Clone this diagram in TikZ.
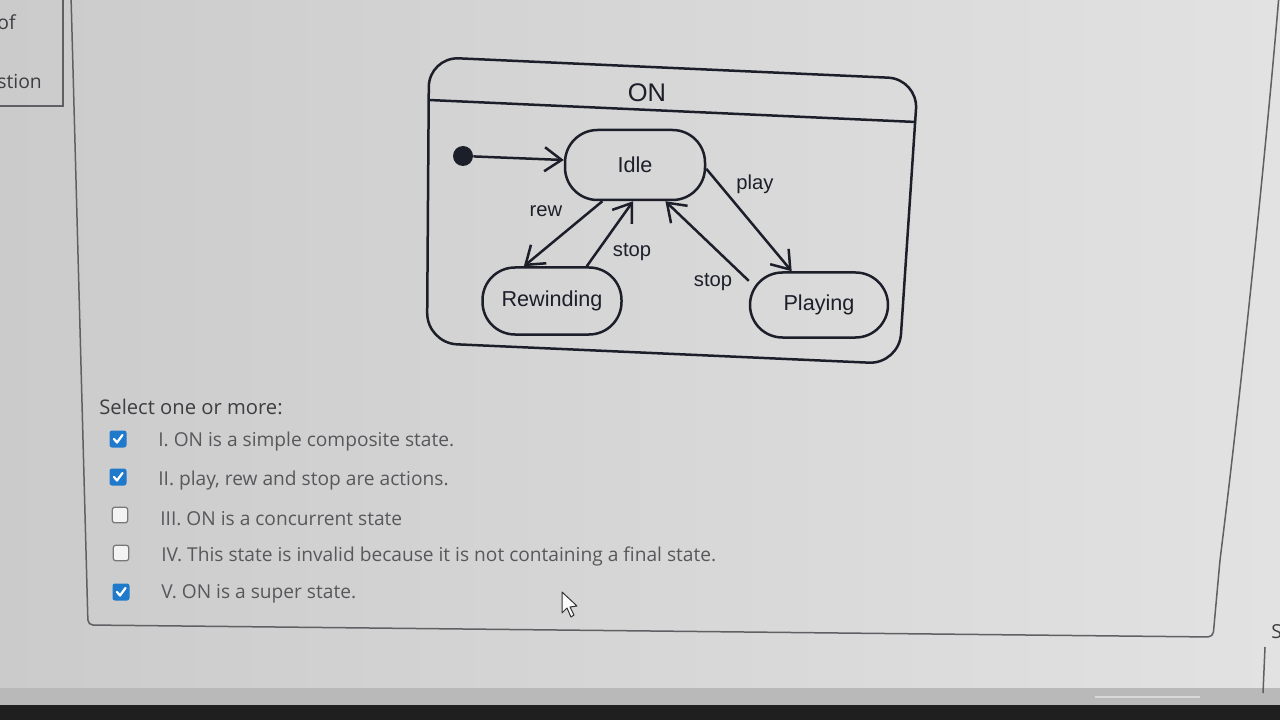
\documentclass[tikz,border=0pt]{standalone}
\usepackage{fontspec}
\setmainfont{Open Sans}
\newfontfamily\umlfont{Liberation Sans}
\usetikzlibrary{arrows.meta}

\definecolor{umlink}{RGB}{28,30,42}
\definecolor{screenleft}{RGB}{203,203,203}
\definecolor{screenright}{RGB}{226,226,226}
\definecolor{panelgray}{RGB}{95,95,100}
\definecolor{quizgray}{RGB}{88,88,92}
\definecolor{titlegray}{RGB}{62,62,66}
\definecolor{tickblue}{RGB}{32,122,204}
\definecolor{boxgray}{RGB}{120,120,120}

\newcommand\tickmark[1]{\draw[white, line width=0.45mm, line cap=round, line join=round]
  ([shift={(-4,0)}]#1.center) -- ([shift={(-1,3.5)}]#1.center) -- ([shift={(4.5,-4)}]#1.center);}

\begin{document}
\begin{tikzpicture}[x=0.2mm, y=-0.2mm]
\tikzstyle{stateStyle} = [draw=umlink, line width=0.5mm, rectangle, rounded corners=6.5mm, text=umlink, font=\umlfont\fontsize{12.3}{14}\selectfont]
\tikzstyle{edgeStyle} = [draw=umlink, line width=0.5mm, -{Straight Barb[length=3.4mm, width=4.8mm]}]
\tikzstyle{labelStyle} = [inner sep=0pt, text=umlink, font=\umlfont\fontsize{11.5}{13}\selectfont]
\tikzstyle{optionStyle} = [anchor=west, inner sep=0pt, text=quizgray, font=\fontsize{10.9}{13}\selectfont]
\tikzstyle{tickedStyle} = [rectangle, minimum size=3.4mm, inner sep=0pt, fill=tickblue, rounded corners=0.5mm]
\tikzstyle{emptyStyle} = [rectangle, minimum size=3.1mm, inner sep=0pt, draw=boxgray, fill=white!60!screenright, line width=0.25mm, rounded corners=0.5mm]
\useasboundingbox (0,0) rectangle (1280,720);

% screen
\fill[left color=screenleft, right color=screenright] (0,0) rectangle (1280,720);
\fill[gray!55] (0,688) rectangle (1280,705);
\fill[black!88] (0,705) rectangle (1280,720);
\draw[gray!30, line width=0.4mm] (1095,697) -- (1200,697);

% question panel
\draw[panelgray, line width=0.3mm] (-5,106) -- (63,106) -- (63,-5);
\node[anchor=west, inner sep=0pt, text=titlegray, font=\fontsize{11}{13}\selectfont] (ofpart) at (-3,22) {of};
\node[anchor=west, inner sep=0pt, text=titlegray, font=\fontsize{11}{13}\selectfont] (stionpart) at (-3,82) {stion};
\draw[panelgray, line width=0.3mm, rounded corners=1mm] (71,-5) -- (88,625) -- (1213,637) -- (1220,560)
  .. controls (1240,400) and (1266,150) .. (1279,-5);
\node[anchor=west, inner sep=0pt, text=titlegray, font=\fontsize{11}{13}\selectfont] (spart) at (1271,632) {S};
\draw[panelgray, line width=0.3mm] (1265,647) -- (1263,693);

% state machine ON
\coordinate (onN) at (673,68);
\coordinate (onNE) at (918,79);
\coordinate (onSE) at (899,364);
\coordinate (onSW) at (427,343);
\coordinate (onNW) at (429,57);
\draw[umlink, line width=0.5mm, rounded corners=6mm] (onN) -- (onNE) -- (onSE) -- (onSW) -- (onNW) -- cycle;
\coordinate (divW) at (429,100);
\coordinate (divE) at (916,122);
\draw[umlink, line width=0.5mm] (divW) -- (divE);
\node[text=umlink, font=\umlfont\fontsize{14.5}{16}\selectfont] (onlabel) at (647,93) {ON};

\node[circle, fill=umlink, minimum size=4mm, inner sep=0pt] (init) at (463,156) {};
\node[stateStyle, minimum width=28mm, minimum height=14mm] (idle) at (635,165) {Idle};
\node[stateStyle, minimum width=27.8mm, minimum height=13.4mm] (rewinding) at (552,301) {Rewinding};
\node[stateStyle, minimum width=27.6mm, minimum height=13mm] (playing) at (819,305) {Playing};

\draw[edgeStyle] (init) -- (idle.176);
\draw[edgeStyle] (idle.228) -- (rewinding.129);
\draw[edgeStyle] (rewinding.45) -- (idle.267);
\draw[edgeStyle] (idle.-3) -- (playing.129);
\draw[edgeStyle] (playing.161) -- (idle.-50);

\node[labelStyle] (rewlabel) at (546,211) {rew};
\node[labelStyle] (stoplabelA) at (632,252) {stop};
\node[labelStyle] (playlabel) at (755,184) {play};
\node[labelStyle] (stoplabelB) at (713,282) {stop};

% answers
\node[anchor=west, inner sep=0pt, text=titlegray, font=\fontsize{11.5}{14}\selectfont] (selecttext) at (99,407) {Select one or more:};
\node[tickedStyle] (boxA) at (118,439) {};
\node[tickedStyle] (boxB) at (118,477) {};
\node[emptyStyle] (boxC) at (120,515) {};
\node[emptyStyle] (boxD) at (121,553) {};
\node[tickedStyle] (boxE) at (121,592) {};
\tickmark{boxA}
\tickmark{boxB}
\tickmark{boxE}
\node[optionStyle] (optA) at (158,442) {I. ON is a simple composite state.};
\node[optionStyle] (optB) at (158,481) {II. play, rew and stop are actions.};
\node[optionStyle] (optC) at (160,519) {III. ON is a concurrent state};
\node[optionStyle] (optD) at (161,556) {IV. This state is invalid because it is not containing a final state.};
\node[optionStyle] (optE) at (161,594) {V. ON is a super state.};

% pointer
\draw[gray!40!black, fill=white!85!screenright, line width=0.2mm, line join=round] (562,592) -- (562,613) -- (567,608)
  -- (571,617) -- (574,615) -- (570,607) -- (577,606) -- cycle;
\end{tikzpicture}
\end{document}
